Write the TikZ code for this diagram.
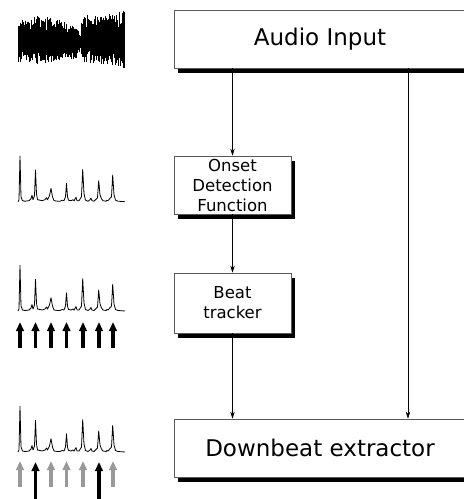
\documentclass[tikz,border=0pt]{standalone}
\usepackage{fontspec}
\setmainfont{DejaVu Sans}
\usetikzlibrary{arrows.meta,shadows}
\tikzset{
  box/.style={draw=black!65, line width=0.7pt, fill=white, inner sep=0pt,
    drop shadow={shadow xshift=3.5pt, shadow yshift=-4.5pt, fill=black, opacity=1}},
  bigbox/.style={box, minimum width=292pt, minimum height=58pt, font=\fontsize{23}{28}\selectfont},
  smallbox/.style={box, minimum width=117pt, minimum height=58pt, align=center, font=\fontsize{16.5}{20}\selectfont},
  conn/.style={line width=0.6pt, -{Stealth[width=4.5pt,length=7pt]}},
  beatarrow/.style={line width=3.2pt, -{Triangle[width=7.5pt,length=9pt]}},
  onsetline/.style={line width=0.8pt, line join=round},
}
\newcommand\onsetcurve[1]{%
  \draw[onsetline, shift={(0,#1)}] (18,0) -- (19,-2) -- (20,-45.7) -- (21,-5) -- (22.5,-1) -- (25,-0.5) -- (29,-1) -- (31,-3) -- (32,-6.5) -- (33,-2) -- (34.5,-6) -- (35.5,-31.7) -- (36.5,-8) -- (37.5,-2) -- (40,-1.5) -- (42,-1) -- (45,-2) -- (46.5,-4) -- (47.5,-2) -- (49.5,-6) -- (51,-13.3) -- (52.5,-5) -- (54,-1) -- (58,-0.5) -- (60,-0.5) -- (62,-1.5) -- (64,-1) -- (65.5,-5) -- (66.5,-18.3) -- (67.5,-5) -- (68.5,-1.5) -- (71,-1) -- (73,-2) -- (74,-0.8) -- (76,-4.5) -- (77,-1) -- (79,-1) -- (81.5,-5) -- (82.7,-32.3) -- (84,-8) -- (85.5,-1.5) -- (88,-0.5) -- (90,-2) -- (91,-3.5) -- (92,-1) -- (94,-0.5) -- (97.5,-4) -- (98.7,-21) -- (100,-7) -- (101.5,-3) -- (103,-1) -- (106,-0.5) -- (107,-1.5) -- (108,-1) -- (111.5,-5) -- (112.7,-26.7) -- (114,-7) -- (115.5,-1.5) -- (118,-0.5) -- (125,0);}
\begin{document}
\begin{tikzpicture}[x=1pt,y=-1pt]
\clip (0,0) rectangle (464,499);
\fill[white] (0,0) rectangle (464,499);

% waveform
\pgfmathsetseed{11}
\foreach \i in {0,...,353} {
  \pgfmathsetmacro\x{18+0.3*\i}
  \pgfmathsetmacro\eu{\x<40 ? 22+5*(\x-18)/22 : (\x<60 ? 27-5*(\x-40)/20 : (\x<77 ? 22-8*(\x-60)/17 : (\x<80 ? 14-9*(\x-77)/3 : (\x<82 ? 5+23*(\x-80)/2 : (\x<100 ? 28-(\x-82)/18 : 27+4*(\x-100)/24)))))}
  \pgfmathsetmacro\ed{\x<40 ? 21+1*(\x-18)/22 : (\x<60 ? 22-2*(\x-40)/20 : (\x<77 ? 20-4*(\x-60)/17 : (\x<80 ? 16-10*(\x-77)/3 : (\x<82 ? 6+14*(\x-80)/2 : (\x<100 ? 20+2*(\x-82)/18 : 22+5*(\x-100)/24)))))}
  \pgfmathsetmacro\u{\eu*(0.4+0.6*rnd^1.4)}
  \pgfmathsetmacro\d{\ed*(0.4+0.6*rnd^1.4)}
  \draw[line width=0.4pt] (\x,42-\u) -- (\x,42+\d);
}

% onset curves
\onsetcurve{201.7}
\onsetcurve{311}
\onsetcurve{452}

% beat arrows
\foreach \x in {20,35.5,51,66.5,83,99,113}
  \draw[beatarrow] (\x,348) -- (\x,322);
\foreach \x in {20,51,66.5,83,113}
  \draw[beatarrow, black!40] (\x,487) -- (\x,461);
\foreach \x in {35.5,99}
  \draw[beatarrow] (\x,505) -- (\x,462);

% boxes
\node[bigbox] (audio) at (320,39) {Audio Input};
\node[smallbox] (onset) at (232.5,185) {Onset\\Detection\\Function};
\node[smallbox, minimum height=60pt] (beat) at (232.5,303) {Beat\\tracker};
\node[bigbox] (down) at (320,448) {Downbeat extractor};

% connectors
\coordinate (rx) at (408,0);
\draw[conn] (onset.north |- audio.south) -- (onset.north);
\draw[conn] (onset.south) -- (beat.north);
\draw[conn] (beat.south) -- (beat.south |- down.north);
\draw[conn] (rx |- audio.south) -- (rx |- down.north);
\end{tikzpicture}
\end{document}
